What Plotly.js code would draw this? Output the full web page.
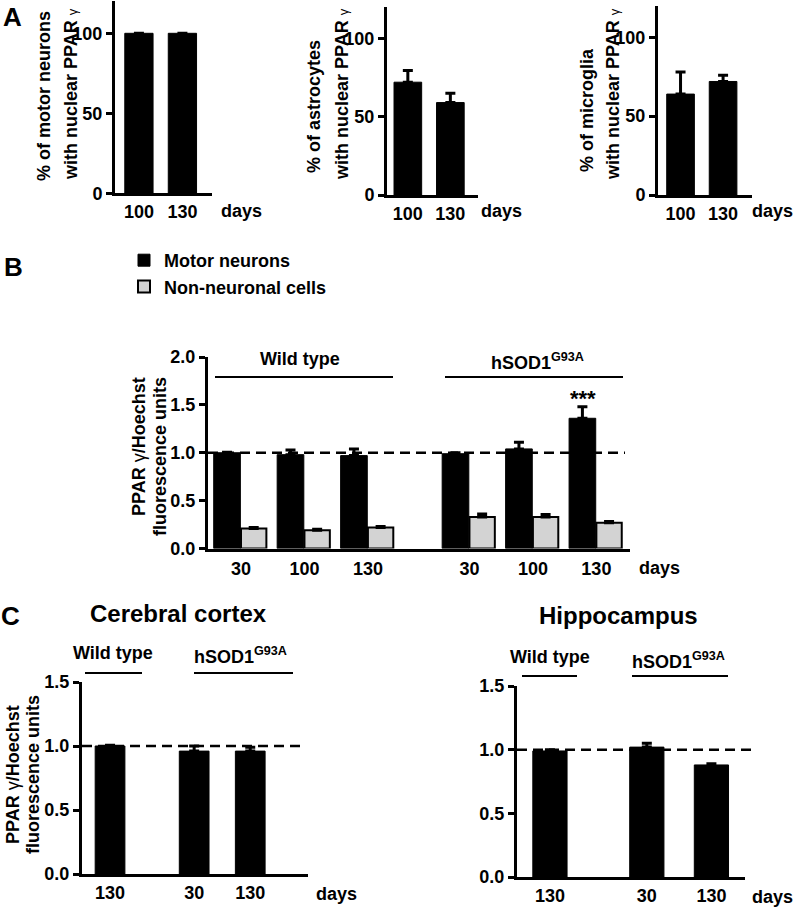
<!DOCTYPE html>
<html>
<head>
<meta charset="utf-8">
<script src="https://cdn.plot.ly/plotly-3.0.1.min.js"></script>
<style>html,body{margin:0;padding:0;background:#fff;}#chart{width:800px;height:907px;}</style>
</head>
<body>
<div id="chart"></div>
<script>
// ---------- data ----------
const daysA = ['100', '130'];
const motorPct = [100, 100];
const motorErr = [0, 0];
const astroPct = [72, 59];
const astroErr = [7.5, 6];
const microPct = [64, 72];
const microErr = [14, 4];

const daysB = ['30', '100', '130', '30', '100', '130'];
const motorB = [1.00, 0.98, 0.97, 0.99, 1.04, 1.36];
const motorBErr = [0.005, 0.05, 0.07, 0.01, 0.07, 0.12];
const nonNeurB = [0.21, 0.19, 0.22, 0.33, 0.33, 0.27];
const nonNeurBErr = [0.01, 0.01, 0.01, 0.03, 0.025, 0.012];

const daysC = ['130', '30', '130'];
const cortex = [1.00, 0.96, 0.96];
const cortexErr = [0.005, 0.04, 0.03];
const hippo = [0.99, 1.02, 0.88];
const hippoErr = [0.01, 0.03, 0.01];

// ---------- layout helpers ----------
const W = 800, H = 907;
const FONT = 'Liberation Sans, Arial, Helvetica, sans-serif';
const slotsA = [0, 1];
const slotsB = [0, 1, 2, 3.6, 4.6, 5.6];
const slotsC = [0, 1.5, 2.5];
const px = v => v / W;
const py = v => 1 - v / H;
const zeros = a => a.map(() => 0);

function errY(arr) {
  return {type: 'data', array: arr, arrayminus: zeros(arr), symmetric: false,
          color: 'black', thickness: 3, width: 5};
}
function bar(x, y, err, xa, ya, opts) {
  return Object.assign({
    type: 'bar', x: x, y: y, xaxis: xa, yaxis: ya, width: 0.65,
    marker: {color: 'black', line: {color: 'black', width: 1}},
    error_y: errY(err), showlegend: false, hoverinfo: 'skip'
  }, opts || {});
}
const tickFont = {family: FONT, size: 18, color: 'black', weight: 'bold'};
function xAxis(dom, range, anchor, vals, text, tl) {
  return {domain: dom, range: range, anchor: anchor, showline: true, linewidth: 3,
          linecolor: 'black', ticks: 'outside', ticklen: tl, tickcolor: 'rgba(0,0,0,0)',
          tickvals: vals, ticktext: text, tickfont: tickFont, showgrid: false,
          zeroline: false, fixedrange: true};
}
function yAxis(dom, range, anchor, vals, fmt) {
  return {domain: dom, range: range, anchor: anchor, showline: true, linewidth: 3,
          linecolor: 'black', ticks: 'outside', ticklen: 6, tickwidth: 3,
          tickcolor: 'black', tickvals: vals, tickformat: fmt, tickfont: tickFont,
          showgrid: false, zeroline: false, fixedrange: true};
}
function ann(text, x, y, size, extra) {
  return Object.assign({text: text, x: px(x), y: py(y), xref: 'paper', yref: 'paper',
    showarrow: false, xanchor: 'center', yanchor: 'middle',
    font: {family: FONT, size: size, color: 'black', weight: 'bold'}}, extra || {});
}
function vann(text, x, y, size) { return ann(text, x, y, size, {textangle: -90}); }
function hline(x0, x1, y, w) {
  return {type: 'line', xref: 'paper', yref: 'paper', x0: px(x0), x1: px(x1),
          y0: py(y), y1: py(y), line: {color: 'black', width: w || 2}};
}
function dashLine(x0, x1, yref) {
  return {type: 'line', xref: 'paper', yref: yref, x0: px(x0), x1: px(x1),
          y0: 1, y1: 1, line: {color: 'black', width: 2.5, dash: '10px,6px'}};
}

// ---------- traces ----------
const traces = [
  bar(slotsA, motorPct, motorErr, 'x', 'y'),
  bar(slotsA, astroPct, astroErr, 'x2', 'y2'),
  bar(slotsA, microPct, microErr, 'x3', 'y3'),
  bar(slotsB, motorB, motorBErr, 'x4', 'y4',
      {name: 'Motor neurons', width: 0.42, offset: -0.43, showlegend: true}),
  bar(slotsB, nonNeurB, nonNeurBErr, 'x4', 'y4',
      {name: 'Non-neuronal cells', width: 0.40, offset: 0.0, showlegend: true,
       marker: {color: '#d3d3d3', line: {color: 'black', width: 2}}}),
  bar(slotsC, cortex, cortexErr, 'x5', 'y5', {width: 0.53}),
  bar(slotsC, hippo, hippoErr, 'x6', 'y6', {width: 0.53})
];

const gammaA = '<span style="font-weight:normal;font-size:13px">γ</span>';
const gammaB = '<span style="font-weight:normal">γ</span>';
const hsod = 'hSOD1<sup>G93A</sup>';

const layout = {
  width: W, height: H, margin: {l: 0, r: 0, t: 0, b: 0},
  paper_bgcolor: 'white', plot_bgcolor: 'white', barmode: 'overlay',
  font: {family: FONT, color: 'black'},
  showlegend: true,
  legend: {x: px(124), y: py(242), xanchor: 'left', yanchor: 'top',
           font: {family: FONT, size: 18, color: 'black', weight: 'bold'},
           bgcolor: 'rgba(0,0,0,0)', itemclick: false, itemdoubleclick: false},
  xaxis:  xAxis([px(115), px(212)], [-0.55, 1.68], 'y', slotsA, daysA, 0),
  yaxis:  yAxis([1 - 193.3 / H, 1 - 1.3 / H], [0, 120], 'x', [0, 50, 100], 'd'),
  xaxis2: xAxis([px(387), px(478)], [-0.49, 1.65], 'y2', slotsA, daysA, 0),
  yaxis2: yAxis([1 - 195 / H, 1 - 7 / H], [0, 120], 'x2', [0, 50, 100], 'd'),
  xaxis3: xAxis([px(658), px(752)], [-0.53, 1.68], 'y3', slotsA, daysA, 0),
  yaxis3: yAxis([1 - 195 / H, 1 - 5.8 / H], [0, 120], 'x3', [0, 50, 100], 'd'),
  xaxis4: xAxis([px(208), px(630)], [-0.52, 6.13], 'y4', slotsB, daysB, 2),
  yaxis4: yAxis([1 - 548.5 / H, 1 - 357 / H], [0, 2], 'x4', [0, 0.5, 1, 1.5, 2], '.1f'),
  xaxis5: xAxis([px(82), px(308)], [-0.5, 3.53], 'y5', slotsC, daysC, 0),
  yaxis5: yAxis([1 - 874 / H, 1 - 682 / H], [0, 1.5], 'x5', [0, 0.5, 1, 1.5], '.1f'),
  xaxis6: xAxis([px(517), px(745)], [-0.51, 3.02], 'y6', slotsC, daysC, 0),
  yaxis6: yAxis([1 - 877 / H, 1 - 686 / H], [0, 1.5], 'x6', [0, 0.5, 1, 1.5], '.1f'),
  shapes: [
    hline(215, 393, 377), hline(445, 623, 377),
    hline(85, 142, 673), hline(194, 293, 673),
    hline(522, 577, 676), hline(632, 728, 676),
    dashLine(208, 625, 'y4'), dashLine(82, 305, 'y5'), dashLine(517, 752, 'y6')
  ],
  annotations: [
    ann('A', 12, 17, 26), ann('B', 13, 267, 26), ann('C', 10, 616, 26),
    // panel A
    vann('% of motor neurons', 44, 96, 18),
    vann('with nuclear PPAR ' + gammaA, 71, 94, 18),
    vann('% of astrocytes', 314, 107, 18),
    vann('with nuclear PPAR ' + gammaA, 342, 94, 18),
    vann('% of microglia', 587, 110, 18),
    vann('with nuclear PPAR ' + gammaA, 613, 94, 18),
    ann('days', 241, 211, 18), ann('days', 502, 211, 18), ann('days', 772, 211, 18),
    // panel B
    vann('PPAR ' + gammaB + '/Hoechst', 139, 447, 18),
    vann('fluorescence units', 160, 457, 18),
    ann('Wild type', 300, 359, 18), ann(hsod, 537, 361, 18),
    ann('***', 583, 398, 22),
    ann('days', 659, 568, 18),
    // panel C
    ann('Cerebral cortex', 178, 613, 24), ann('Hippocampus', 618, 615, 24),
    vann('PPAR ' + gammaB + '/Hoechst', 13, 775, 18),
    vann('fluorescence units', 33, 775, 18),
    ann('Wild type', 113, 653, 18), ann(hsod, 240, 655, 18),
    ann('Wild type', 550, 657, 18), ann(hsod, 678, 660, 18),
    ann('days', 336, 894, 18), ann('days', 772, 897, 18)
  ]
};

Plotly.newPlot('chart', traces, layout, {staticPlot: true, displayModeBar: false});
</script>
</body>
</html>
